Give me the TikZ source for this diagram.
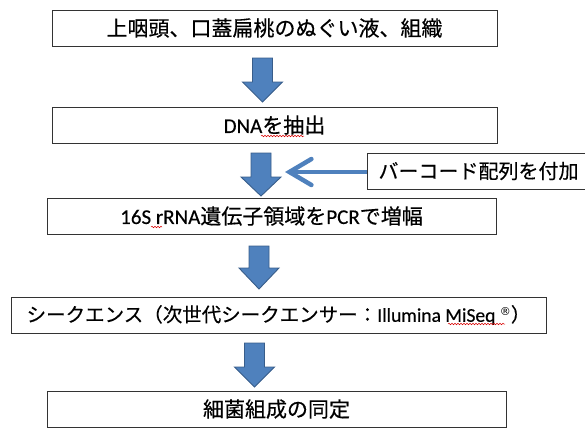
\documentclass[tikz,border=0pt]{standalone}
\usepackage{fontspec}
\setmainfont{Noto Sans CJK JP}[FakeBold=0.35]
\newfontfamily\lat{Carlito}[FakeBold=0.35]
\newfontfamily\symf{DejaVu Sans}
\usetikzlibrary{arrows.meta,decorations.pathmorphing}
\definecolor{ablue}{HTML}{4F81BD}
\definecolor{ablueedge}{HTML}{385D8A}
\newcommand\blockarrow[4]{% cx, top, headstart, tip
  \draw[barrow] (#1-10,#2) -- (#1+10,#2) -- (#1+10,#3) -- (#1+20,#3) -- (#1,#4) -- (#1-20,#3) -- (#1-10,#3) -- cycle;}
\begin{document}
\begin{tikzpicture}[x=1pt,y=-1pt,
  box/.style={draw=black!80, line width=1pt, fill=white, inner sep=0pt, minimum height=36,
    font=\fontsize{21}{24}\selectfont},
  barrow/.style={fill=ablue, draw=ablueedge, line width=0.9pt, line join=miter},
  sidearrow/.style={draw=ablue, line width=4.5pt, -{Straight Barb[length=22pt,width=26pt,line cap=round]}},
  wavy/.style={draw=red!85!black, line width=0.5pt, decorate, decoration={snake, amplitude=0.8pt, segment length=3pt}}]
\useasboundingbox (0,0) rectangle (585,429);
\begin{scope}
\clip (0,0) rectangle (585,429);
\node[box, minimum width=223, font=\fontsize{20}{24}\selectfont] (side) at (478.5,171) {バーコード配列を付加};
\end{scope}
\node[box, minimum width=445] (b1) at (274.5,28) {上咽頭、口蓋扁桃のぬぐい液、組織};
\node[box, minimum width=445] (b2) at (274.5,125) {{\lat DNA}を抽出};
\node[box, minimum width=449] (b3) at (271.5,216) {{\lat 16S rRNA}遺伝子領域を{\lat PCR}で増幅};
\node[box, minimum width=535, font=\fontsize{19.5}{24}\selectfont] (b4) at (278.5,315) {シークエンス（次世代シークエンサー：{\lat Illumina MiSeq }\raisebox{0.3em}{\symf\fontsize{11}{12}\selectfont ®}）};
\node[box, minimum width=459] (b5) at (276.5,409) {細菌組成の同定};
\blockarrow{262.5}{58}{82}{102}
\blockarrow{261}{153}{177}{196}
\blockarrow{259}{246}{268}{289}
\blockarrow{254.5}{343}{367}{387}
\coordinate (sidetip) at (285,172);
\draw[sidearrow] (side.west |- sidetip) -- (sidetip);
\draw[wavy] (261,136) -- (304,136);
\draw[wavy] (151,227) -- (162,227);
\draw[wavy] (448,324) -- (505,324);
\end{tikzpicture}
\end{document}
